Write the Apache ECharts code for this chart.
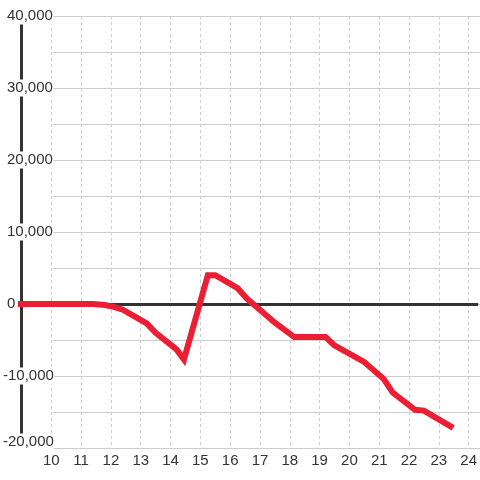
<!DOCTYPE html>
<html>
<head>
<meta charset="utf-8">
<script src="https://cdn.jsdelivr.net/npm/echarts@6/dist/echarts.min.js"></script>
<style>
  html, body { margin: 0; padding: 0; background: #fff; }
  #chart { width: 480px; height: 480px; }
</style>
</head>
<body>
<div id="chart"></div>
<script>
// hour of day vs value
const hours = [8.88, 11.4, 11.8, 12.1, 12.4, 13.2, 13.5, 14.2, 14.45, 15.25, 15.5, 16.25, 16.55, 17.5, 18.15, 19.2, 19.48, 20.48, 21.15, 21.45, 22.2, 22.5, 23.48];
const values = [0, 0, -150, -400, -800, -2700, -4000, -6300, -7700, 4000, 4000, 2200, 800, -2600, -4600, -4600, -5700, -8000, -10400, -12300, -14700, -14800, -17200];
const xTicks = [10, 11, 12, 13, 14, 15, 16, 17, 18, 19, 20, 21, 22, 23, 24];

const chart = echarts.init(document.getElementById('chart'));

const labelFont = { fontFamily: 'Liberation Sans, Arial, sans-serif', fontSize: 15, color: '#333' };

chart.setOption({
  animation: false,
  grid: [
    { left: 20.5, right: 0, top: 16, bottom: 32 },
    // only the horizontal grid lines, they start a bit further right
    { left: 53, right: 0, top: 16, bottom: 32 }
  ],
  xAxis: [
    {
      // dashed vertical lines only
      gridIndex: 0,
      type: 'value',
      position: 'bottom',
      min: 9,
      max: 24.32,
      interval: 1,
      axisLine: { show: false },
      axisTick: { show: false },
      axisLabel: { show: false },
      splitLine: {
        show: true,
        showMinLine: false,
        showMaxLine: false,
        lineStyle: { color: '#ccc', width: 1, type: [3, 3] }
      }
    },
    { gridIndex: 1, type: 'value', min: 0, max: 1, show: false },
    {
      // tick labels, drawn above the y label boxes
      gridIndex: 0,
      type: 'value',
      position: 'bottom',
      offset: 0,
      min: 9,
      max: 24.32,
      interval: 1,
      z: 5,
      axisLine: { show: false },
      axisTick: { show: false },
      splitLine: { show: false },
      axisLabel: Object.assign({}, labelFont, {
        margin: 5,
        showMinLabel: false,
        showMaxLabel: false,
        formatter: function (v) { return xTicks.indexOf(v) >= 0 ? String(v) : ''; }
      })
    }
  ],
  yAxis: [
    {
      gridIndex: 0,
      type: 'value',
      min: -20000,
      max: 40000,
      interval: 10000,
      axisLine: { show: true, lineStyle: { color: '#333', width: 3 } },
      axisTick: { show: false },
      splitLine: { show: false },
      axisLabel: {
        align: 'left',
        margin: 18.5,
        backgroundColor: '#fff',
        padding: [1, 0, 1, 0],
        formatter: function (v) {
          const s = v.toLocaleString('en-US');
          if (v === -20000) return '{low|' + s + '}';
          return v < 0 ? '{n|' + s + '}' : '{p|' + s + '}';
        },
        rich: {
          n: labelFont,
          p: Object.assign({ padding: [0, 0, 0, 4] }, labelFont),
          low: Object.assign({ padding: [0, 0, 12, 0] }, labelFont)
        }
      },
      z: 3
    },
    {
      gridIndex: 1,
      type: 'value',
      min: -20000,
      max: 40000,
      interval: 5000,
      axisLine: { show: false },
      axisTick: { show: false },
      axisLabel: { show: false },
      splitLine: { show: true, lineStyle: { color: '#ccc', width: 1 } }
    }
  ],
  series: [
    {
      type: 'line',
      xAxisIndex: 0,
      yAxisIndex: 0,
      data: hours.map(function (h, i) { return [h, values[i]]; }),
      showSymbol: false,
      clip: false,
      z: 6,
      lineStyle: { color: '#ec1e33', width: 6, join: 'miter', cap: 'butt' },
      markLine: {
        silent: true,
        symbol: 'none',
        label: { show: false },
        lineStyle: { color: '#333', width: 3, type: 'solid' },
        data: [{ yAxis: 0 }],
        z: 1
      }
    }
  ]
});
</script>
</body>
</html>
